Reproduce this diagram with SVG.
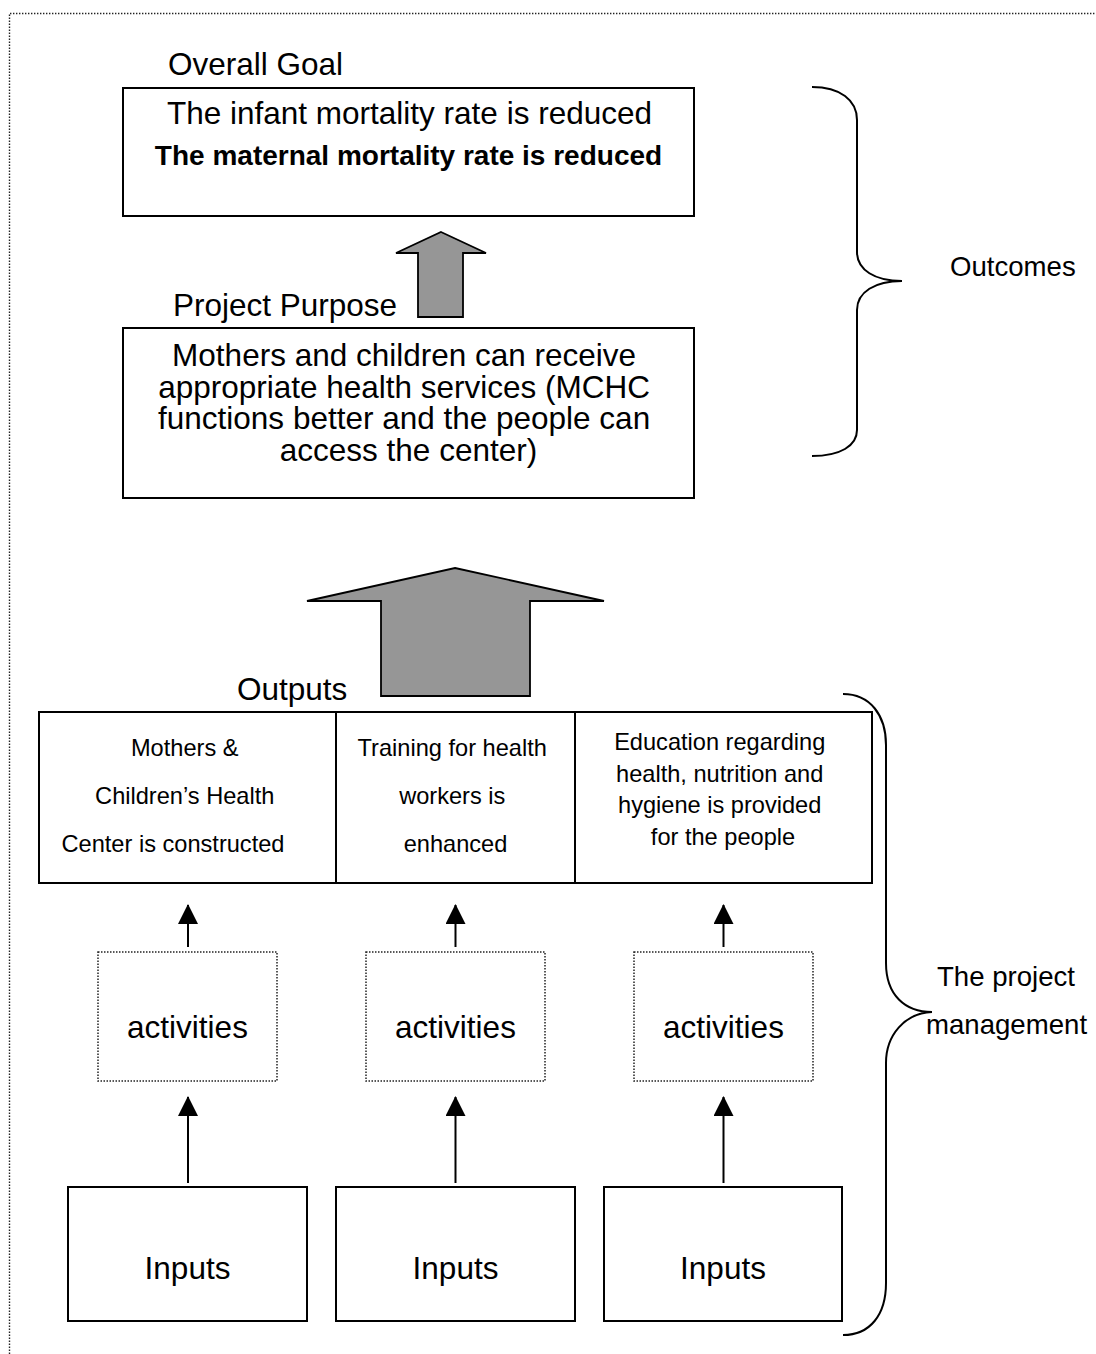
<svg xmlns="http://www.w3.org/2000/svg" width="1096" height="1354" viewBox="0 0 1096 1354">
  <style>
    text { font-family: "Liberation Sans", Arial, sans-serif; fill: #000; }
    .big { font-size: 31.5px; }
    .mid { font-size: 27.6px; }
    .small { font-size: 23.6px; }
    .bold { font-size: 28px; font-weight: bold; }
    .box { fill: #fff; stroke: #000; stroke-width: 2; }
    .dotbox { fill: #fff; stroke: #222; stroke-width: 1.5; stroke-dasharray: 1.5 1.5; }
    .block { fill: #969696; stroke: #000; stroke-width: 1.8; stroke-linejoin: miter; }
    .brace { fill: none; stroke: #000; stroke-width: 2; }
    .link { stroke: #000; stroke-width: 2; fill: none; }
  </style>
  <defs>
    <marker id="head" viewBox="0 0 20 20" refX="19" refY="10" markerWidth="20" markerHeight="20" markerUnits="userSpaceOnUse" orient="auto">
      <path d="M0,0 L20,10 L0,20 Z" fill="#000"/>
    </marker>
  </defs>

  <rect width="1096" height="1354" fill="#fff"/>
  <!-- page frame -->
  <path d="M9.5,1354 L9.5,13.5 L1096,13.5" fill="none" stroke="#222" stroke-width="1.4" stroke-dasharray="1.4 1.6"/>

  <!-- Overall Goal -->
  <g id="overall-goal">
    <text class="big" x="168" y="75">Overall Goal</text>
    <rect class="box" x="123" y="88" width="571" height="128"/>
    <text class="big" x="409.5" y="124" text-anchor="middle">The infant mortality rate is reduced</text>
    <text class="bold" x="408.5" y="165" text-anchor="middle">The maternal mortality rate is reduced</text>
  </g>

  <!-- Project Purpose -->
  <g id="project-purpose">
    <text class="big" x="173" y="316">Project Purpose</text>
    <rect class="box" x="123" y="328" width="571" height="170"/>
    <text class="big" text-anchor="middle">
      <tspan x="408.5" y="366">Mothers and children can receive</tspan>
      <tspan x="408.5" y="398">appropriate health services (MCHC</tspan>
      <tspan x="408.5" y="429">functions better and the people can</tspan>
      <tspan x="408.5" y="461">access the center)</tspan>
    </text>
  </g>

  <!-- block arrows between levels -->
  <g id="block-arrows">
    <polygon class="block" points="441,232 486,253 463,253 463,317 418,317 418,253 396,253"/>
    <polygon class="block" points="455,568 604,601 530,601 530,696 381,696 381,601 307,601"/>
  </g>

  <!-- Outputs -->
  <g id="outputs">
    <text class="big" x="237" y="700">Outputs</text>
    <rect class="box" x="39" y="712" width="297" height="171"/>
    <rect class="box" x="336" y="712" width="239" height="171"/>
    <rect class="box" x="575" y="712" width="297" height="171"/>
    <text class="small" text-anchor="middle">
      <tspan x="188" y="756">Mothers &amp;</tspan>
      <tspan x="188" y="804">Children’s Health</tspan>
      <tspan x="173" y="852">Center is constructed</tspan>
    </text>
    <text class="small" text-anchor="middle">
      <tspan x="455.5" y="756">Training for health</tspan>
      <tspan x="455.5" y="804">workers is</tspan>
      <tspan x="455.5" y="852">enhanced</tspan>
    </text>
    <text class="small" text-anchor="middle">
      <tspan x="723" y="750">Education regarding</tspan>
      <tspan x="723" y="782">health, nutrition and</tspan>
      <tspan x="723" y="813">hygiene is provided</tspan>
      <tspan x="723" y="845">for the people</tspan>
    </text>
  </g>

  <!-- Activities -->
  <g id="activities-1">
    <rect class="dotbox" x="98" y="952" width="179" height="129"/>
    <text class="big" x="187.5" y="1038" text-anchor="middle">activities</text>
  </g>
  <g id="activities-2">
    <rect class="dotbox" x="366" y="952" width="179" height="129"/>
    <text class="big" x="455.5" y="1038" text-anchor="middle">activities</text>
  </g>
  <g id="activities-3">
    <rect class="dotbox" x="634" y="952" width="179" height="129"/>
    <text class="big" x="723.5" y="1038" text-anchor="middle">activities</text>
  </g>

  <!-- Inputs -->
  <g id="inputs-1">
    <rect class="box" x="68" y="1187" width="239" height="134"/>
    <text class="big" x="187.5" y="1279" text-anchor="middle">Inputs</text>
  </g>
  <g id="inputs-2">
    <rect class="box" x="336" y="1187" width="239" height="134"/>
    <text class="big" x="455.5" y="1279" text-anchor="middle">Inputs</text>
  </g>
  <g id="inputs-3">
    <rect class="box" x="604" y="1187" width="238" height="134"/>
    <text class="big" x="723" y="1279" text-anchor="middle">Inputs</text>
  </g>

  <!-- connectors -->
  <g id="connectors">
    <line class="link" x1="188" y1="947" x2="188" y2="905" marker-end="url(#head)"/>
    <line class="link" x1="455.5" y1="947" x2="455.5" y2="905" marker-end="url(#head)"/>
    <line class="link" x1="723.5" y1="947" x2="723.5" y2="905" marker-end="url(#head)"/>
    <line class="link" x1="188" y1="1183" x2="188" y2="1097" marker-end="url(#head)"/>
    <line class="link" x1="455.5" y1="1183" x2="455.5" y2="1097" marker-end="url(#head)"/>
    <line class="link" x1="723.5" y1="1183" x2="723.5" y2="1097" marker-end="url(#head)"/>
  </g>

  <!-- Outcomes brace -->
  <g id="outcomes">
    <path class="brace" d="M812,87 C840,87 857,100 857,120 L857,252 C857,270 875,281 902,281 C875,281 857,292 857,310 L857,430 C857,446 840,456 812,456"/>
    <text class="mid" x="950" y="276">Outcomes</text>
  </g>

  <!-- Project management brace -->
  <g id="project-management">
    <path class="brace" d="M843,694 C870,694 886,715 886,745 L886,963 C886,995 905,1012 932,1012 C905,1013 886,1035 886,1063 L886,1283 C886,1315 870,1335 843,1335"/>
    <text class="mid" x="937" y="986">The project</text>
    <text class="mid" x="926" y="1034">management</text>
  </g>
</svg>
